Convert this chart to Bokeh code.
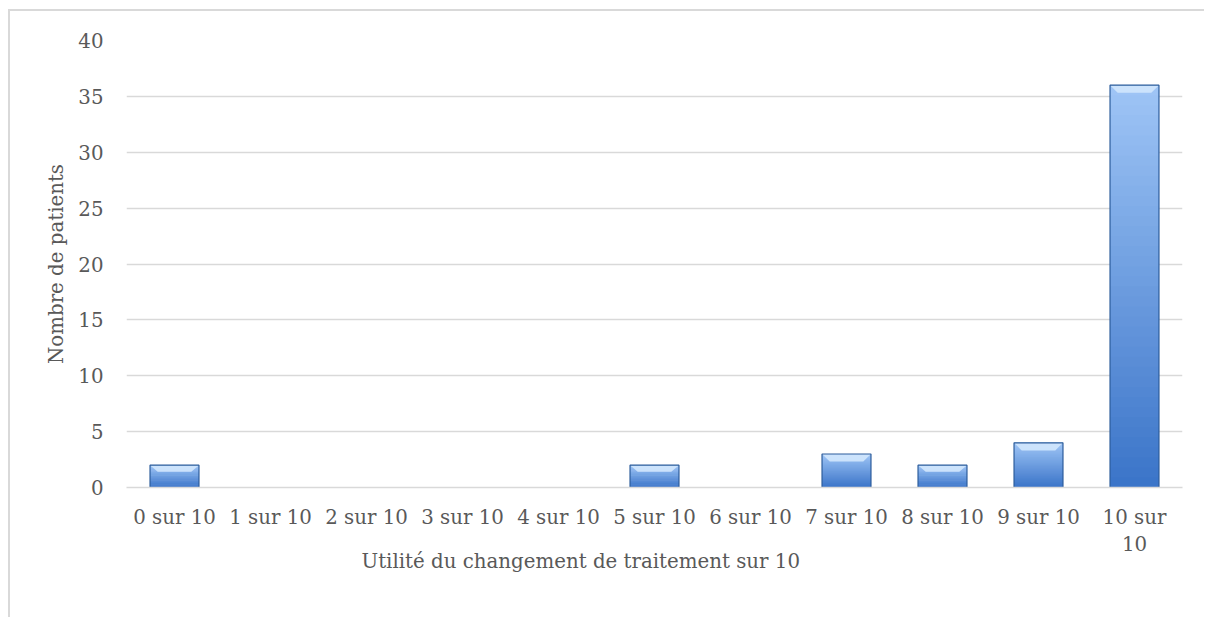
from bokeh.plotting import figure
from bokeh.models import Title, FixedTicker, Range1d
from bokeh.embed import file_html
from bokeh.resources import INLINE

categories = ["0 sur 10", "1 sur 10", "2 sur 10", "3 sur 10", "4 sur 10", "5 sur 10",
              "6 sur 10", "7 sur 10", "8 sur 10", "9 sur 10", "10 sur\n10"]
patients = [2, 0, 0, 0, 0, 2, 0, 3, 2, 4, 36]
y_ticks = [0, 5, 10, 15, 20, 25, 30, 35, 40]

FONT = "DejaVu Serif"
FS = "19.8px"
TXT = "#595959"
GRID = "#d9d9d9"

p = figure(width=1196, height=608, output_backend="svg", toolbar_location=None,
           x_range=Range1d(-0.5, len(categories) - 0.5), y_range=Range1d(0, 40),
           min_border_left=116, min_border_right=24, min_border_top=29, min_border_bottom=132)
p.styles = {"margin-left": "8px", "margin-top": "9px",
            "border-left": "2px solid #d9d9d9", "border-top": "2px solid #d9d9d9"}
p.outline_line_color = None
p.xgrid.grid_line_color = None
p.ygrid.grid_line_color = GRID
p.ygrid.grid_line_width = 1.5

# bars: vertical gradient approximated by overlapping slices
W = 0.51
N = 40
def lerp(c1, c2, t):
    return "#%02x%02x%02x" % tuple(int(round(a + (b - a) * t)) for a, b in zip(c1, c2))
dark = (0x3a, 0x74, 0xc8)
light = (0x9f, 0xc5, 0xf6)
xs, bots, tops, cols = [], [], [], []
for i, v in enumerate(patients):
    if v <= 0:
        continue
    for k in range(N):
        xs.append(i)
        bots.append(v * k / N)
        tops.append(min(v, v * (k + 2) / N))
        cols.append(lerp(dark, light, (k + 0.5) / N))
p.vbar(x=xs, bottom=bots, top=tops, width=W, fill_color=cols, line_color=None)

# bevel on top of each bar
bev = 0.68
for i, v in enumerate(patients):
    if v <= 0:
        continue
    b = min(bev, v * 0.3)
    dx = 0.08
    p.patch([i - W / 2, i + W / 2, i + W / 2 - dx, i - W / 2 + dx],
            [v, v, v - b, v - b], fill_color="#cfe5fc", line_color=None, fill_alpha=0.95)
xb = [i for i, v in enumerate(patients) if v > 0]
vb = [v for v in patients if v > 0]
p.vbar(x=xb, top=vb, bottom=0, width=W, fill_color=None, line_color="#2d5d9c", line_width=1.2)

p.xaxis.ticker = FixedTicker(ticks=list(range(len(categories))))
p.xaxis.major_label_overrides = {i: c for i, c in enumerate(categories)}
p.yaxis.ticker = FixedTicker(ticks=y_ticks)

for ax in (p.xaxis[0], p.yaxis[0]):
    ax.major_tick_line_color = None
    ax.minor_tick_line_color = None
    ax.major_label_text_font = FONT
    ax.major_label_text_font_size = FS
    ax.major_label_text_color = TXT
    ax.axis_label_text_font = FONT
    ax.axis_label_text_font_size = FS
    ax.axis_label_text_color = TXT
    ax.axis_label_text_font_style = "normal"
p.xaxis.axis_line_color = GRID
p.xaxis.axis_line_width = 1.5
p.yaxis.axis_line_color = None
p.yaxis.major_label_standoff = 17
p.xaxis.major_label_standoff = 12
p.yaxis.axis_label = "Nombre de patients"
p.yaxis.axis_label_standoff = 7

p.add_layout(Title(text="Utilité du changement de traitement sur 10", align="left", offset=235,
                   text_font=FONT, text_font_size=FS, text_color=TXT,
                   text_font_style="normal", standoff=-24), "below")

open("out.html", "w").write(file_html(p, INLINE))
